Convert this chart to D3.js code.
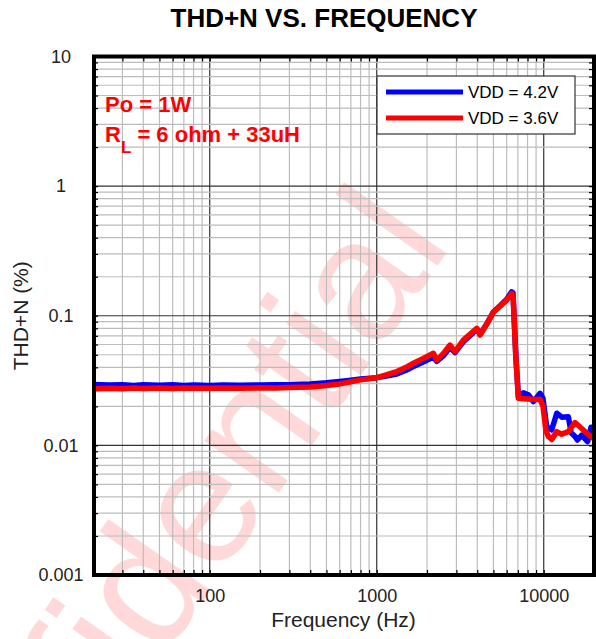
<!DOCTYPE html>
<html>
<head>
<meta charset="utf-8">
<script src="https://cdn.jsdelivr.net/npm/d3@7"></script>
<style>
  body { margin: 0; background: #fff; }
  text { font-family: "Liberation Sans", Arial, sans-serif; }
</style>
</head>
<body>
<svg id="chart" width="596" height="639"></svg>
<script>
// VDD = 4.2V
const freqBlue = [20, 25, 30, 35, 40, 50, 60, 70, 80, 100, 120, 150, 200, 250, 300, 400, 500, 600, 700, 800,
  1000, 1100, 1318, 1500, 1657, 1901, 2183, 2288, 2500, 2748, 2944, 3300, 3700, 3972, 4157, 4600, 5000, 5500,
  6000, 6427, 6550, 6800, 7047, 7550, 8090, 8670, 9100, 9508, 9900, 10420, 11170, 11970, 12820, 14040, 14600,
  15390, 15900, 16880, 18300, 19200, 20000];
const thdBlue = [0.0295, 0.0292, 0.0294, 0.0290, 0.0293, 0.0291, 0.0293, 0.0290, 0.0292, 0.0290, 0.0292, 0.0291,
  0.0292, 0.0294, 0.0294, 0.0298, 0.0304, 0.0311, 0.0318, 0.0325,
  0.0333, 0.0340, 0.0355, 0.0380, 0.0405, 0.0440, 0.0480, 0.0445, 0.0490, 0.0570, 0.0520, 0.0630, 0.0720,
  0.0790, 0.0720, 0.0880, 0.1070, 0.1200,
  0.1340, 0.1530, 0.1500, 0.0500, 0.0240, 0.0255, 0.0246, 0.0218, 0.0235, 0.0252, 0.0230, 0.0139, 0.0132,
  0.0177, 0.0165, 0.0166, 0.0125, 0.0117, 0.0110, 0.0120, 0.0107, 0.0138, 0.0112];

// VDD = 3.6V
const freqRed = [20, 25, 30, 35, 40, 50, 60, 70, 80, 100, 120, 150, 200, 250, 300, 400, 500, 600, 700, 800,
  1000, 1100, 1318, 1500, 1657, 1901, 2183, 2288, 2500, 2748, 2944, 3300, 3700, 3972, 4157, 4600, 5000, 5500,
  6000, 6427, 6550, 6800, 7047, 8000, 9000, 9508, 9900, 10300, 10670, 11170, 11970, 12820, 14040, 15390,
  16880, 18930, 20000];
const thdRed = [0.0272, 0.0276, 0.0274, 0.0277, 0.0275, 0.0277, 0.0275, 0.0277, 0.0276, 0.0276, 0.0277, 0.0276,
  0.0278, 0.0277, 0.0279, 0.0282, 0.0290, 0.0298, 0.0310, 0.0320,
  0.0333, 0.0345, 0.0371, 0.0400, 0.0430, 0.0469, 0.0513, 0.0455, 0.0510, 0.0594, 0.0528, 0.0650, 0.0740,
  0.0800, 0.0710, 0.0880, 0.1070, 0.1190,
  0.1320, 0.1490, 0.1450, 0.0500, 0.0231, 0.0228, 0.0226, 0.0227, 0.0200, 0.0130, 0.0117, 0.0111, 0.01275,
  0.0122, 0.01275, 0.0150, 0.0135, 0.0118, 0.0113];

const xTickValues = [100, 1000, 10000];
const yTickValues = [0.001, 0.01, 0.1, 1, 10];
const yTickLabels = ['0.001', '0.01', '0.1', '1', '10'];
const seriesNames = ['VDD = 4.2V', 'VDD = 3.6V'];
const seriesColors = ['#0000ff', '#ff0000'];

const plot = { left: 93, right: 594, top: 56.5, bottom: 575 };

const svg = d3.select('#chart');

const x = d3.scaleLog().domain([20, 20000]).range([plot.left, plot.right]);
const y = d3.scaleLog().domain([0.001, 10]).range([plot.bottom, plot.top]);

const isDecade = (v) => Math.abs(Math.log10(v) - Math.round(Math.log10(v))) < 1e-9;

// watermark
svg
  .append('text')
  .text('Confidential')
  .attr('transform', 'translate(453,244) rotate(-55)')
  .attr('text-anchor', 'end')
  .style('font-size', '172px')
  .attr('fill', '#ff0000')
  .attr('fill-opacity', 0.15);

// grid
const grid = svg.append('g');
const xGrid = x.ticks().filter((d) => d > 20 && d < 20000);
const yGrid = y.ticks().filter((d) => d > 0.001 && d < 10);

grid
  .selectAll('.vgrid')
  .data(xGrid)
  .enter()
  .append('line')
  .attr('x1', (d) => x(d))
  .attr('x2', (d) => x(d))
  .attr('y1', plot.top)
  .attr('y2', plot.bottom)
  .attr('stroke', (d) => (isDecade(d) ? '#333' : '#bcbcbc'))
  .attr('stroke-width', 1.2);

grid
  .selectAll('.hgrid')
  .data(yGrid)
  .enter()
  .append('line')
  .attr('x1', plot.left)
  .attr('x2', plot.right)
  .attr('y1', (d) => y(d))
  .attr('y2', (d) => y(d))
  .attr('stroke', (d) => (isDecade(d) ? '#333' : '#bcbcbc'))
  .attr('stroke-width', 1.2);

// inner ticks on all sides
const tickLen = 5;
const innerAxes = [
  [d3.axisLeft(y).tickValues(y.ticks()), `translate(${plot.left},0)`],
  [d3.axisRight(y).tickValues(y.ticks()), `translate(${plot.right},0)`],
  [d3.axisBottom(x).tickValues(x.ticks()), `translate(0,${plot.bottom})`],
  [d3.axisTop(x).tickValues(x.ticks()), `translate(0,${plot.top})`],
];
innerAxes.forEach(([axis, tr]) => {
  const g = svg
    .append('g')
    .attr('transform', tr)
    .call(axis.tickSize(-tickLen).tickFormat(''));
  g.select('.domain').remove();
  g.selectAll('line').attr('stroke', '#000').attr('stroke-width', 1.2);
});

// series
svg
  .append('clipPath')
  .attr('id', 'plotClip')
  .append('rect')
  .attr('x', plot.left)
  .attr('y', plot.top)
  .attr('width', plot.right - plot.left)
  .attr('height', plot.bottom - plot.top);

const line = d3
  .line()
  .x((d) => x(d[0]))
  .y((d) => y(d[1]));

const series = [
  d3.zip(freqBlue, thdBlue),
  d3.zip(freqRed, thdRed),
];

svg
  .append('g')
  .attr('clip-path', 'url(#plotClip)')
  .selectAll('path')
  .data(series)
  .enter()
  .append('path')
  .attr('d', line)
  .attr('fill', 'none')
  .attr('stroke', (d, i) => seriesColors[i])
  .attr('stroke-width', 5.5)
  .attr('stroke-linejoin', 'round')
  .attr('stroke-linecap', 'round');

// frame
svg
  .append('rect')
  .attr('x', plot.left + 1)
  .attr('y', plot.top)
  .attr('width', plot.right - plot.left - 1)
  .attr('height', plot.bottom - plot.top)
  .attr('fill', 'none')
  .attr('stroke', '#000')
  .attr('stroke-width', 4);

// axis labels
const xAxis = svg
  .append('g')
  .attr('transform', `translate(0,${plot.bottom})`)
  .call(
    d3.axisBottom(x).tickValues(xTickValues).tickFormat(d3.format('d')).tickSize(0).tickPadding(14)
  );
xAxis.select('.domain').remove();
xAxis.selectAll('text').style('font-size', '18px').attr('fill', '#222');

const yAxis = svg
  .append('g')
  .attr('transform', 'translate(61,0)')
  .call(
    d3.axisLeft(y).tickValues(yTickValues).tickFormat((d, i) => yTickLabels[i]).tickSize(0).tickPadding(0)
  );
yAxis.select('.domain').remove();
yAxis
  .selectAll('text')
  .attr('x', 0)
  .attr('text-anchor', 'middle')
  .style('font-size', '18px')
  .attr('fill', '#222');

svg
  .append('text')
  .text('Frequency (Hz)')
  .attr('x', (plot.left + plot.right) / 2)
  .attr('y', 627)
  .attr('text-anchor', 'middle')
  .style('font-size', '21px')
  .attr('fill', '#222');

svg
  .append('text')
  .text('THD+N (%)')
  .attr('transform', `translate(28,${(plot.top + plot.bottom) / 2}) rotate(-90)`)
  .attr('text-anchor', 'middle')
  .style('font-size', '21px')
  .attr('fill', '#222');

// title
svg
  .append('text')
  .text('THD+N VS. FREQUENCY')
  .attr('x', 324)
  .attr('y', 27)
  .attr('text-anchor', 'middle')
  .style('font-size', '26px')
  .style('font-weight', 'bold')
  .attr('fill', '#000');

// conditions
const note = svg.append('g').attr('fill', '#ff0000').style('font-weight', 'bold');
note
  .append('text')
  .text('Po = 1W')
  .attr('x', 105)
  .attr('y', 112)
  .style('font-size', '22px');
const rl = note.append('text').attr('x', 105).attr('y', 142).style('font-size', '22px');
rl.append('tspan').text('R');
rl.append('tspan').text('L').attr('dy', 11).style('font-size', '17px');
rl.append('tspan').text(' = 6 ohm + 33uH').attr('dy', -11);

// legend
const legend = svg.append('g').attr('transform', 'translate(377,76)');
legend
  .append('rect')
  .attr('width', 198)
  .attr('height', 58)
  .attr('fill', '#fff')
  .attr('stroke', '#333')
  .attr('stroke-width', 1.2);

const items = legend
  .selectAll('.item')
  .data(seriesNames)
  .enter()
  .append('g')
  .attr('transform', (d, i) => `translate(0,${16 + i * 26})`);
items
  .append('line')
  .attr('x1', 9)
  .attr('x2', 86)
  .attr('stroke', (d, i) => seriesColors[i])
  .attr('stroke-width', 5);
items
  .append('text')
  .text((d) => d)
  .attr('x', 91)
  .attr('dy', '0.36em')
  .style('font-size', '17px')
  .attr('fill', '#000');
</script>
</body>
</html>
